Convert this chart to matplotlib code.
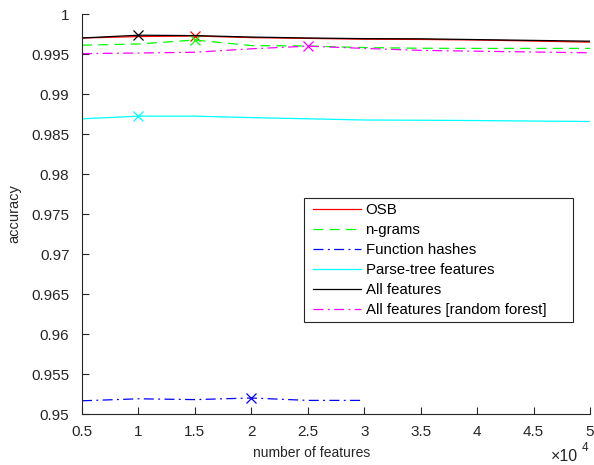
import matplotlib.pyplot as plt
from matplotlib.patches import Rectangle
import numpy as np

plt.rcParams['font.family'] = ['Liberation Sans', 'DejaVu Sans']

# number of features
x = [5000, 10000, 15000, 20000, 25000, 30000, 35000, 40000, 45000, 50000]
x_hash = [5000, 10000, 15000, 20000, 25000, 30000]

osb = [0.99700, 0.99718, 0.99725, 0.99705, 0.99695, 0.99685, 0.99682, 0.99675, 0.99662, 0.99648]
ngrams = [0.99610, 0.99625, 0.99675, 0.99605, 0.99600, 0.99580, 0.99572, 0.99570, 0.99570, 0.99570]
hashes = [0.95165, 0.95190, 0.95180, 0.95200, 0.95170, 0.95170]
parse_tree = [0.98690, 0.98723, 0.98723, 0.98705, 0.98690, 0.98675, 0.98672, 0.98668, 0.98662, 0.98656]
all_feat = [0.99700, 0.99735, 0.99730, 0.99712, 0.99700, 0.99692, 0.99690, 0.99680, 0.99670, 0.99660]
all_rf = [0.99505, 0.99512, 0.99522, 0.99565, 0.99598, 0.99570, 0.99545, 0.99535, 0.99525, 0.99515]

dashed = (0, (8, 5))
dashdot = (0, (8, 3.5, 1.5, 3.5))
series = [
    ('OSB', x, osb, (1, 0, 0), '-'),
    ('n-grams', x, ngrams, (0, 1, 0), dashed),
    ('Function hashes', x_hash, hashes, (0, 0, 1), dashdot),
    ('Parse-tree features', x, parse_tree, (0, 1, 1), '-'),
    ('All features', x, all_feat, (0, 0, 0), '-'),
    ('All features [random forest]', x, all_rf, (1, 0, 1), dashdot),
]

fig = plt.figure(figsize=(5.94, 4.65), dpi=100)
ax = fig.add_axes([82 / 594, 51 / 465, 508 / 594, 400 / 465])

for name, xs, ys, col, ls in series:
    ax.plot(xs, ys, color=col, linestyle=ls, linewidth=0.9, label=name)
    i = int(np.argmax(ys))
    ax.plot(xs[i], ys[i], marker='x', color=col, markersize=7,
            markeredgewidth=0.9, linestyle='none')

ax.set_xlim(5000, 50000)
ax.set_ylim(0.95, 1.0)
ax.set_xticks(np.arange(5000, 50001, 5000))
ax.set_xticklabels(['0.5', '1', '1.5', '2', '2.5', '3', '3.5', '4', '4.5', '5'])
ax.set_yticks(np.arange(0.95, 1.0001, 0.005))
ax.set_yticklabels(['0.95', '0.955', '0.96', '0.965', '0.97', '0.975', '0.98',
                    '0.985', '0.99', '0.995', '1'])

for s in ['top', 'right']:
    ax.spines[s].set_visible(False)
for s in ['left', 'bottom']:
    ax.spines[s].set_color('#262626')
    ax.spines[s].set_linewidth(0.8)
ax.tick_params(direction='in', length=5, colors='#262626', labelsize=11,
               labelcolor='#262626')
ax.tick_params(axis='y', pad=9)
ax.tick_params(axis='x', pad=8)

ax.set_xlabel('number of features', fontsize=10, color='#262626')
ax.xaxis.set_label_coords((311.5 - 82) / 508, (414 - 446) / 400)
ax.set_ylabel('accuracy', fontsize=10.5, color='#262626')
ax.yaxis.set_label_coords((21 - 82) / 508, 0.5)

# axis multiplier
fig.text(551 / 594, (465 - 461) / 465, '×10', fontsize=11.5, ha='left',
         va='baseline', color='#262626')
fig.text(582 / 594, (465 - 451) / 465, '4', fontsize=8.5, ha='left',
         va='baseline', color='#262626')

# legend with box drawn separately
box = Rectangle((304 / 594, (465 - 322) / 465), 269 / 594, 124 / 465,
                transform=fig.transFigure, facecolor='white',
                edgecolor='#262626', linewidth=0.8, zorder=4, clip_on=False)
ax.add_patch(box)
leg = ax.legend(loc='upper left', bbox_to_anchor=(313 / 594, (465 - 203) / 465),
                bbox_transform=fig.transFigure, borderaxespad=0, borderpad=0,
                fontsize=10.8, frameon=False, handlelength=3.2,
                handletextpad=0.3, labelspacing=0.4)
leg.set_zorder(5)

fig.savefig('out.png', dpi=100)
